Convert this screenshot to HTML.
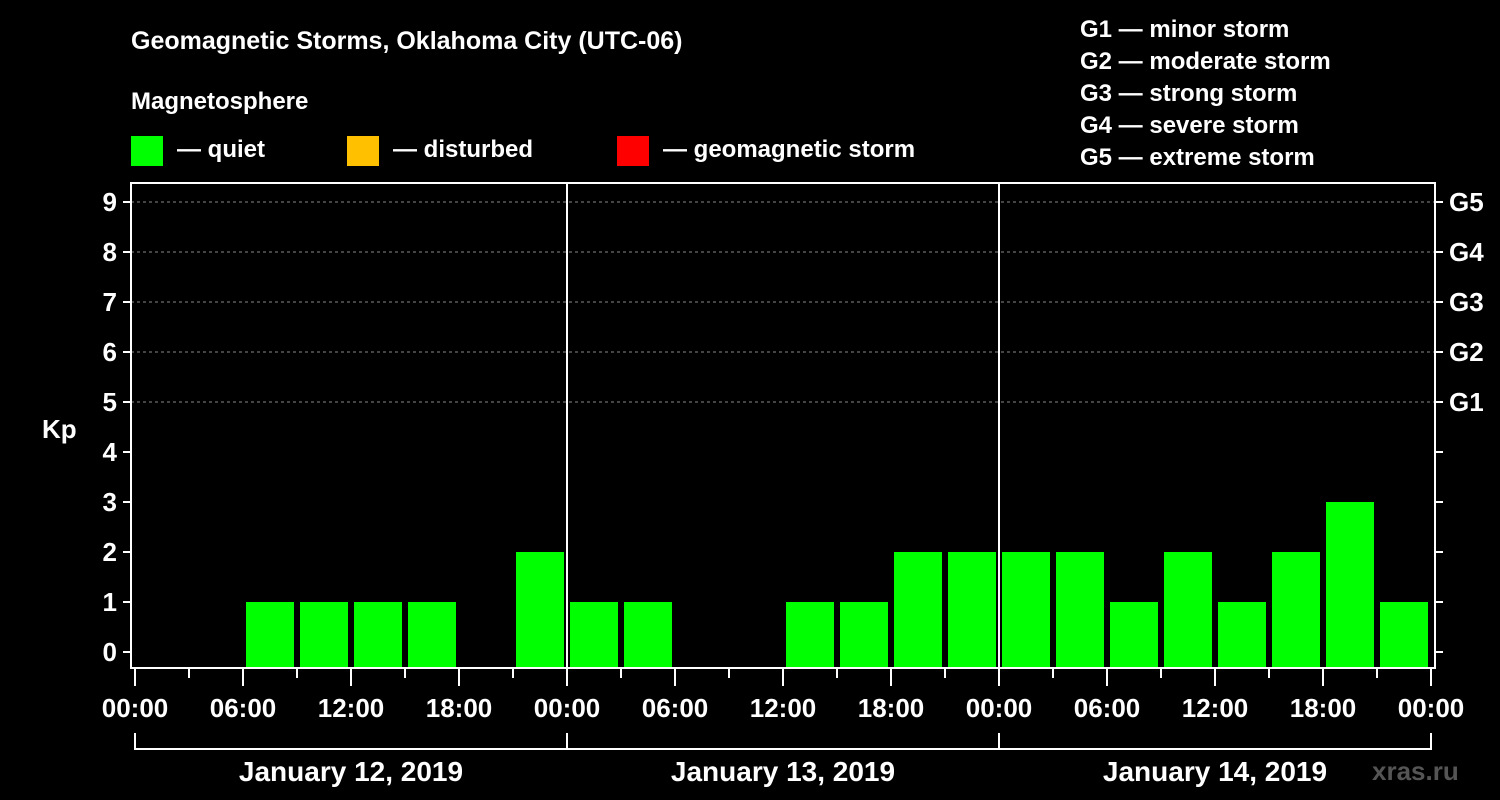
<!DOCTYPE html>
<html><head><meta charset="utf-8"><style>
html,body{margin:0;padding:0;background:#000;}
svg{display:block;font-family:"Liberation Sans",Arial,sans-serif;font-weight:bold;}
</style></head><body>
<svg id="chart" width="1500" height="800" viewBox="0 0 1500 800">
<rect width="1500" height="800" fill="#000"/>
<text x="131" y="49" fill="#fff" font-size="25">Geomagnetic Storms, Oklahoma City (UTC-06)</text>
<text x="131" y="109" fill="#fff" font-size="24">Magnetosphere</text>
<g><rect x="131" y="136" width="32" height="30" fill="#00ff00"/><text x="177" y="157" fill="#fff" font-size="24">— quiet</text></g>
<g><rect x="347" y="136" width="32" height="30" fill="#ffc000"/><text x="393" y="157" fill="#fff" font-size="24">— disturbed</text></g>
<g><rect x="617" y="136" width="32" height="30" fill="#ff0000"/><text x="663" y="157" fill="#fff" font-size="24">— geomagnetic storm</text></g>
<g fill="#fff" font-size="24">
<text x="1080" y="37">G1 — minor storm</text>
<text x="1080" y="69">G2 — moderate storm</text>
<text x="1080" y="101">G3 — strong storm</text>
<text x="1080" y="133">G4 — severe storm</text>
<text x="1080" y="165">G5 — extreme storm</text>
</g>
<text x="42" y="438" fill="#fff" font-size="26">Kp</text>
<text x="1372" y="780" fill="#555" font-size="26">xras.ru</text>
<g id="grid"></g><g id="bars"></g><g id="axes"></g>
</svg>
<script>
const kpValues = [0,0,1,1,1,1,0,2, 1,1,0,0,1,1,2,2, 2,2,1,2,1,2,3,1];
const dayLabels = ["January 12, 2019","January 13, 2019","January 14, 2019"];
const timeLabels = ["00:00","06:00","12:00","18:00"];
const yTicks = [0,1,2,3,4,5,6,7,8,9];
const gLabels = ["G1","G2","G3","G4","G5"];

const NS="http://www.w3.org/2000/svg";
const X0=135, SLOT=54, L=131, R=1435, TOP=183, BOT=668;
const x = i => X0 + i*SLOT;
const y = v => 652 - 50*v;
function mk(tag, attrs, parent){const e=document.createElementNS(NS,tag);for(const k in attrs)e.setAttribute(k,attrs[k]);parent.appendChild(e);return e;}
const grid=document.getElementById('grid'), bars=document.getElementById('bars'), axes=document.getElementById('axes');

yTicks.forEach(v=>{
  if(v>=5){const gl=mk('line',{x1:L,x2:R,y1:y(v),y2:y(v),stroke:'#888','stroke-dasharray':'3,3','stroke-width':1},grid);
  
  }
  const t=mk('line',{x1:L-8,x2:L,y1:y(v),y2:y(v),stroke:'#fff','stroke-width':2},axes);
  
  
  const t2=mk('line',{x1:R,x2:R+8,y1:y(v),y2:y(v),stroke:'#fff','stroke-width':2},axes);
  
  
  const lb=mk('text',{x:L-14,y:y(v)+9,fill:'#fff','font-size':26,'text-anchor':'end'},axes);
  lb.textContent=v;
  
  
});
gLabels.forEach((g,i)=>{
  const lb=mk('text',{x:R+14,y:y(5+i)+9,fill:'#fff','font-size':26},axes);
  lb.textContent=g;
  
  
});
kpValues.forEach((v,i)=>{
  if(v<=0) return;
  const c = v>=5?'#ff0000':(v>=4?'#ffc000':'#00ff00');
  const b=mk('rect',{x:x(i)+3,y:y(v),width:48,height:BOT-1-y(v),fill:c},bars);
  
  
});
// frame
const fr=mk('path',{d:`M${L},${TOP}H${R}V${BOT}H${L}Z`,fill:'none',stroke:'#fff','stroke-width':2},axes);


for(let d=1;d<dayLabels.length;d++){
  const dl=mk('line',{x1:x(d*8),x2:x(d*8),y1:TOP,y2:BOT,stroke:'#fff','stroke-width':2},axes);
  
  
}
for(let i=0;i<=24;i++){
  const major=i%2===0;
  const t=mk('line',{x1:x(i),x2:x(i),y1:BOT,y2:major?686:678,stroke:'#fff','stroke-width':2},axes);
  
  
  if(major){
    const lb=mk('text',{x:x(i),y:717,fill:'#fff','font-size':26,'text-anchor':'middle'},axes);
    lb.textContent=timeLabels[(i/2)%4];
    
    
  }
}
dayLabels.forEach((d,i)=>{
  const br=mk('path',{d:`M${x(i*8)},733V749H${x(i*8+8)}V733`,fill:'none',stroke:'#fff','stroke-width':2},axes);
  
  
  const lb=mk('text',{x:x(i*8+4),y:781,fill:'#fff','font-size':28,'text-anchor':'middle'},axes);
  lb.textContent=d;
  
  
});
</script>
</body></html>
